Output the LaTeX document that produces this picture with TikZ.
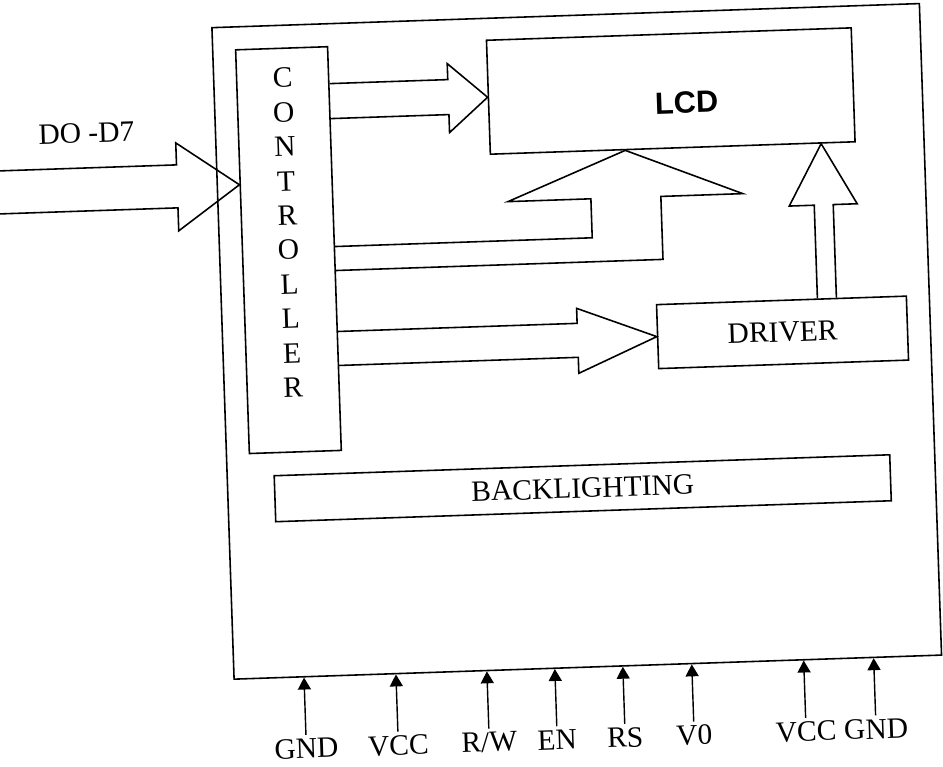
\documentclass[tikz,border=0pt]{standalone}
\usepackage{fontspec}
\setmainfont{Liberation Serif}
\newfontfamily\lcdfont{Liberation Sans}
\usetikzlibrary{arrows.meta}
\tikzset{
  box/.style={draw,line width=0.9pt,inner sep=0pt},
  blkarr/.style={draw,line width=0.9pt,line join=miter},
  pinarr/.style={-{Triangle[length=0.24cm,width=0.26cm]},line width=0.8pt},
  txt/.style={font=\fontsize{16.8}{19.6}\selectfont},
  pinlab/.style={txt,anchor=north,inner sep=2pt},
}
\begin{document}
\begin{tikzpicture}[x=0.02cm,y=-0.02cm]
  \useasboundingbox (0,0) rectangle (943,767);
  \clip (0,0) rectangle (943,767);
  \begin{scope}[rotate around={1.95:(500,380)},transform shape]
    % module outline and inner blocks
    \node[box,minimum width=14.16cm,minimum height=13.04cm] (board) at (578,344) {};
    \node[box,minimum width=1.84cm,minimum height=8.08cm] (ctrl) at (293,243) {};
    \node[txt,align=center] (ctrllab) at (293,225.5) {C\\O\\N\\T\\R\\O\\L\\L\\E\\R};
    \node[box,minimum width=7.3cm,minimum height=2.28cm] (lcd) at (680.5,97) {};
    \node[font={\lcdfont\fontsize{17.5}{20}\selectfont\bfseries}] (lcdlab) at (696,109) {LCD};
    \node[box,txt,minimum width=5cm,minimum height=1.28cm] (drv) at (784,342) {DRIVER};
    \node[box,txt,minimum width=12.32cm,minimum height=0.92cm] (back) at (579,491) {BACKLIGHTING};
    % data bus into the controller
    \coordinate (busin) at (0,176);
    \node[txt] (buslab) at (95,119) {DO -D7};
    \draw[blkarr] (busin |- 0,154) -- (184,154) -- (184,132) -- (ctrl.west |- busin)
      -- (184,220) -- (184,197) -- (busin |- 0,197);
    % controller -> lcd
    \draw[blkarr] (ctrl.east |- 0,78) -- (458,78) -- (458,62) -- (lcd.west)
      -- (458,131) -- (458,113) -- (ctrl.east |- 0,113);
    % controller -> lcd (bent, from below)
    \draw[blkarr] (ctrl.east |- 0,241) -- (597,241) -- (597,202) -- (514,202)
      -- (633,0 |- lcd.south) -- (749,202) -- (667,202) -- (667,265) -- (ctrl.east |- 0,265);
    % controller -> driver
    \draw[blkarr] (ctrl.east |- 0,326) -- (579,326) -- (579,311) -- (drv.west)
      -- (579,376) -- (579,360) -- (ctrl.east |- 0,360);
    % driver -> lcd
    \draw[blkarr] (820,0 |- drv.north) -- (820,216) -- (795,216) -- (829,0 |- lcd.south)
      -- (863,216) -- (839,216) -- (839,0 |- drv.north);
    % pins
    \foreach \px/\pn/\pt in {294/gndA/GND,386/vccA/VCC,477/rw/{R/W},545/en/EN,
                             613/rs/RS,682/vo/V0,794/vccB/VCC,864/gndB/GND}{
      \node[pinlab] (\pn) at (\px,728) {\pt};
      \draw[pinarr] (\pn.north) -- (\pn.north |- board.south);
    }
  \end{scope}
\end{tikzpicture}
\end{document}
